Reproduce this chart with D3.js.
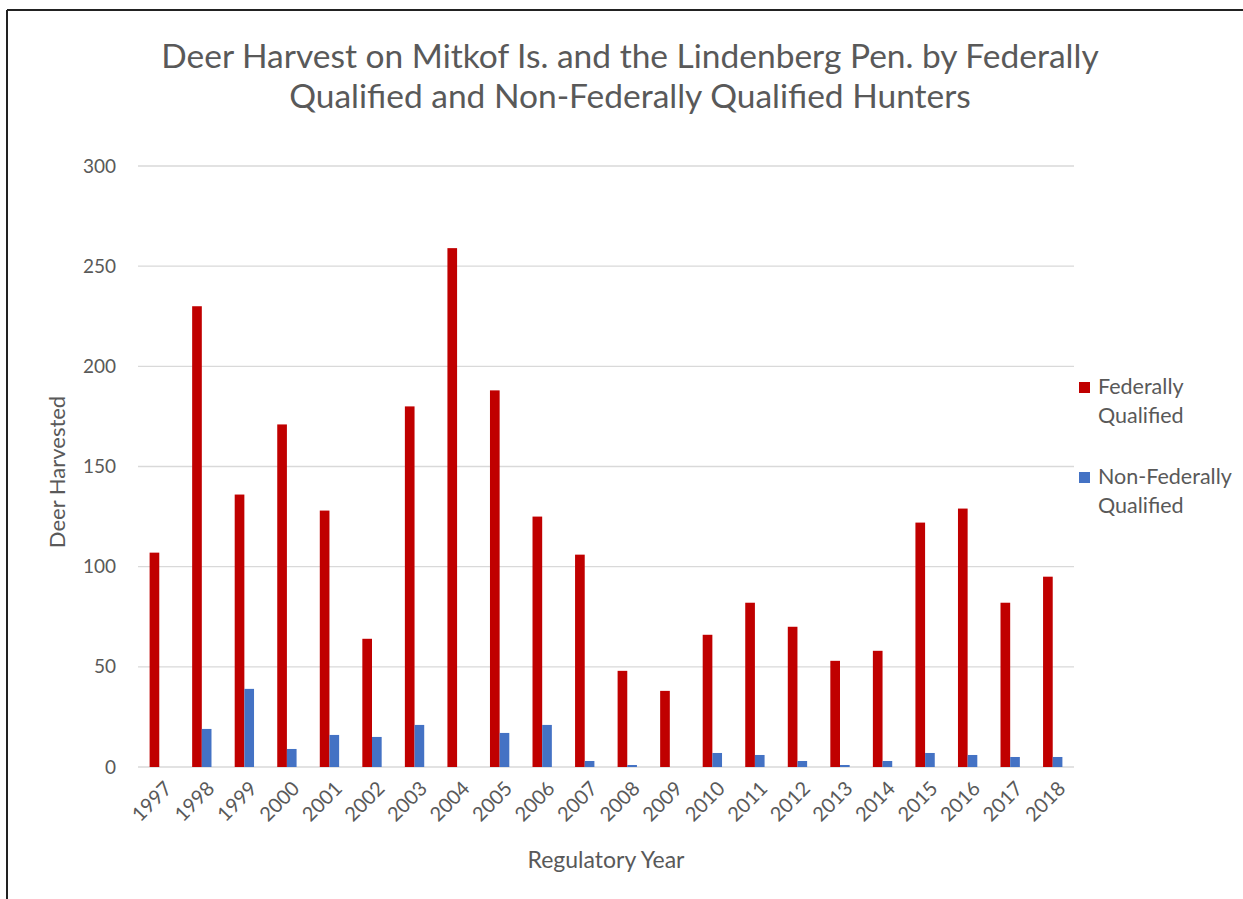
<!DOCTYPE html>
<html>
<head>
<meta charset="utf-8">
<script src="https://cdn.jsdelivr.net/npm/d3@7"></script>
<style>
  body { margin: 0; background: #fff; }
  text { font-family: Lato, "Open Sans", sans-serif; fill: #595959; }
</style>
</head>
<body>
<script>
// chart values
const years = ["1997","1998","1999","2000","2001","2002","2003","2004","2005","2006","2007",
               "2008","2009","2010","2011","2012","2013","2014","2015","2016","2017","2018"];
const federal = [107,230,136,171,128,64,180,259,188,125,106,48,38,66,82,70,53,58,122,129,82,95];
const nonFederal = [0,19,39,9,16,15,21,0,17,21,3,1,0,7,6,3,1,3,7,6,5,5];
const seriesNames = ["Federally Qualified", "Non-Federally Qualified"];
const seriesColors = ["#C00000", "#4472C4"];
const yTicks = [0, 50, 100, 150, 200, 250, 300];

const W = 1243, H = 899;
const plotLeft = 138, plotRight = 1074, plotTop = 166, plotBottom = 767;

var svg = d3.select("body").append("svg")
    .attr("width", W)
    .attr("height", H);

// frame like the screenshot
svg.append("line").attr("x1", 7).attr("x2", W).attr("y1", 10).attr("y2", 10)
    .attr("stroke", "#222").attr("stroke-width", 2);
svg.append("line").attr("x1", 7).attr("x2", 7).attr("y1", 10).attr("y2", H)
    .attr("stroke", "#222").attr("stroke-width", 2);

var x = d3.scaleBand().domain(years).range([plotLeft, plotRight]);
var xs = d3.scaleBand().domain(seriesNames).range([0, x.bandwidth()]).paddingOuter(1.2);
var y = d3.scaleLinear().domain([0, 300]).range([plotBottom, plotTop]);

// gridlines
svg.append("g").selectAll("line").data(yTicks).join("line")
    .attr("x1", plotLeft).attr("x2", plotRight)
    .attr("y1", d => y(d)).attr("y2", d => y(d))
    .attr("stroke", "#d9d9d9").attr("stroke-width", 1.3);

// y axis labels
var yAxis = svg.append("g")
    .attr("transform", "translate(" + (plotLeft - 14) + ",0)")
    .call(d3.axisLeft(y).tickValues(yTicks).tickSize(0).tickPadding(8));
yAxis.select(".domain").remove();
yAxis.selectAll("text").style("font-size", "19px").attr("fill", "#595959");

// bars
var rows = years.map((yr, i) => ({ year: yr, vals: [federal[i], nonFederal[i]] }));
var groups = svg.append("g").selectAll("g").data(rows).join("g")
    .attr("transform", d => "translate(" + x(d.year) + ",0)");
groups.selectAll("rect")
    .data(d => d.vals.map((v, k) => ({ name: seriesNames[k], v: v, k: k })))
    .join("rect")
    .attr("x", d => xs(d.name))
    .attr("width", xs.bandwidth())
    .attr("y", d => y(d.v))
    .attr("height", d => y(0) - y(d.v))
    .attr("fill", d => seriesColors[d.k]);

// x axis labels
var xAxis = svg.append("g")
    .attr("transform", "translate(0," + (plotBottom + 13) + ")")
    .call(d3.axisBottom(x).tickSize(0).tickPadding(0));
xAxis.select(".domain").remove();
xAxis.selectAll("text")
    .style("font-size", "20px")
    .attr("fill", "#595959")
    .attr("text-anchor", "end")
    .attr("dy", "0.7em")
    .attr("transform", "translate(4,0) rotate(-45)");

// titles
svg.append("text").attr("x", 630).attr("y", 68).attr("text-anchor", "middle")
    .style("font-size", "33.5px").text("Deer Harvest on Mitkof Is. and the Lindenberg Pen. by Federally");
svg.append("text").attr("x", 630).attr("y", 108).attr("text-anchor", "middle")
    .style("font-size", "33.5px").text("Qualified and Non-Federally Qualified Hunters");

svg.append("text").attr("x", (plotLeft + plotRight) / 2).attr("y", 868).attr("text-anchor", "middle")
    .style("font-size", "23px").text("Regulatory Year");

svg.append("text").attr("transform", "translate(65,472) rotate(-90)").attr("text-anchor", "middle")
    .style("font-size", "22px").text("Deer Harvested");

// legend
var legendLines = [["Federally", "Qualified"], ["Non-Federally", "Qualified"]];
var lg = svg.append("g").selectAll("g").data(legendLines).join("g")
    .attr("transform", (d, i) => "translate(1079," + (382 + i * 90) + ")");
lg.append("rect").attr("width", 11).attr("height", 11)
    .attr("fill", (d, i) => seriesColors[i]);
lg.append("text").attr("x", 19).attr("y", 12).style("font-size", "21.5px")
    .text(d => d[0]);
lg.append("text").attr("x", 19).attr("y", 41).style("font-size", "21.5px")
    .text(d => d[1]);
</script>
</body>
</html>
